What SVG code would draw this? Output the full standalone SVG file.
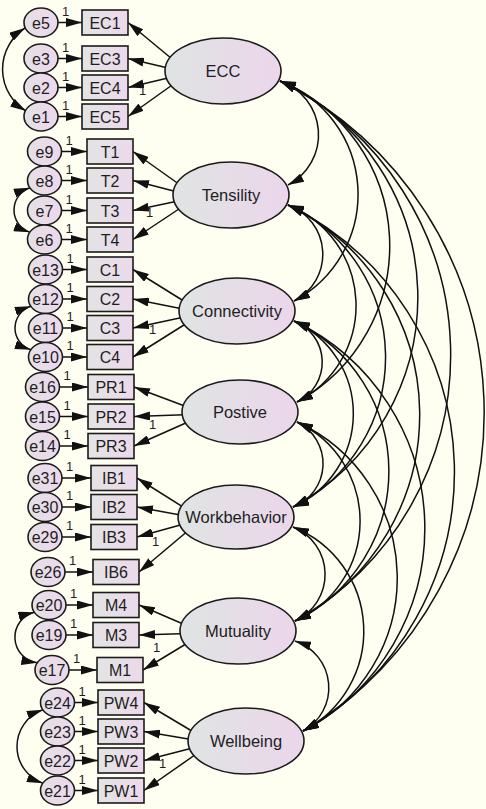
<svg xmlns="http://www.w3.org/2000/svg" width="486" height="809" viewBox="0 0 486 809">
<defs>
<linearGradient id="gl" x1="0" y1="0" x2="1" y2="0"><stop offset="0" stop-color="#DFE4E3"/><stop offset="1" stop-color="#ECD6EB"/></linearGradient>
<linearGradient id="go" x1="0" y1="0" x2="1" y2="0"><stop offset="0" stop-color="#E3E4E4"/><stop offset="1" stop-color="#ECD9EB"/></linearGradient>
<linearGradient id="ge" x1="0" y1="0" x2="1" y2="0"><stop offset="0" stop-color="#E4E0E6"/><stop offset="1" stop-color="#EDD8EC"/></linearGradient>
<marker id="ah" viewBox="0 0 16 9" refX="16" refY="4.5" markerWidth="16" markerHeight="9" markerUnits="userSpaceOnUse" orient="auto-start-reverse"><path d="M0,0 L16,4.5 L0,9 z" fill="#111"/></marker>
<style>
.lat{fill:url(#gl);stroke:#1b1b1b;stroke-width:1.6}
.obs{fill:url(#go);stroke:#1b1b1b;stroke-width:1.6}
.err{fill:url(#ge);stroke:#1b1b1b;stroke-width:1.6}
.p{fill:none;stroke:#111;stroke-width:1.5;marker-end:url(#ah)}
.cov{fill:none;stroke:#111;stroke-width:1.5;marker-start:url(#ah);marker-end:url(#ah)}
text{font-family:"Liberation Sans",Arial,sans-serif;fill:#1e1e1e}
.t{font-size:16px;text-anchor:middle}
.tl{font-size:16.5px;text-anchor:middle}
.one{font-size:13px}
</style>
</defs>
<rect x="0" y="0" width="486" height="809" fill="#FEFFF1"/>
<g id="connectors">
<!-- error to indicator -->
<path class="p" d="M41,22.5 H82"/><path class="p" d="M41,58.5 H82"/><path class="p" d="M41,87.5 H82"/><path class="p" d="M41,116.5 H82"/>
<path class="p" d="M44.5,151.5 H87"/><path class="p" d="M44.5,180.5 H87"/><path class="p" d="M44.5,210.5 H87"/><path class="p" d="M44.5,239.5 H87"/>
<path class="p" d="M45.5,269.5 H87"/><path class="p" d="M45.5,299 H87"/><path class="p" d="M45.5,328 H87"/><path class="p" d="M45.5,357 H87"/>
<path class="p" d="M42.5,387 H88"/><path class="p" d="M42.5,416.5 H88"/><path class="p" d="M42.5,446 H88"/>
<path class="p" d="M45,478 H91"/><path class="p" d="M45,507 H91"/><path class="p" d="M45,537 H91"/><path class="p" d="M48,572 H93"/>
<path class="p" d="M49,605 H93"/><path class="p" d="M49,635 H93"/><path class="p" d="M52,670 H97"/>
<path class="p" d="M57.5,702.5 H98"/><path class="p" d="M57.5,731.5 H98"/><path class="p" d="M57.5,760.5 H98"/><path class="p" d="M57.5,790.5 H98"/>
<!-- latent to indicator -->
<path class="p" d="M189,73 L128,22.5"/><path class="p" d="M189,73 L128,58.5"/><path class="p" d="M189,73 L128,87.5"/><path class="p" d="M189,73 L128,116.5"/>
<path class="p" d="M197,197 L133,151.5"/><path class="p" d="M197,197 L133,180.5"/><path class="p" d="M197,197 L133,210.5"/><path class="p" d="M197,197 L133,239.5"/>
<path class="p" d="M203,313 L133,269.5"/><path class="p" d="M203,313 L133,299"/><path class="p" d="M203,313 L133,328"/><path class="p" d="M203,313 L133,357"/>
<path class="p" d="M206,414 L134,387"/><path class="p" d="M206,414 L134,416.5"/><path class="p" d="M206,414 L134,446"/>
<path class="p" d="M202,519 L137,478"/><path class="p" d="M202,519 L137,507"/><path class="p" d="M202,519 L137,537"/><path class="p" d="M202,519 L139,572"/>
<path class="p" d="M204,633 L139,605"/><path class="p" d="M204,633 L139,635"/><path class="p" d="M204,633 L143,670"/>
<path class="p" d="M212,743 L144,702.5"/><path class="p" d="M212,743 L144,731.5"/><path class="p" d="M212,743 L144,760.5"/><path class="p" d="M212,743 L144,790.5"/>
<!-- error covariances -->
<path class="cov" d="M25,28 A49,49 0 0 0 26,111"/>
<path class="cov" d="M29.8,187.8 A23.5,23.5 0 0 0 29.8,232.2"/>
<path class="cov" d="M30.8,306.3 A22.8,22.8 0 0 0 30.8,349.7"/>
<path class="cov" d="M34.3,612.3 A25.7,25.7 0 0 0 37.3,662.7"/>
<path class="cov" d="M42.8,709.8 A39,39 0 0 0 42.8,783.2"/>
<!-- latent covariances -->
<path class="cov" d="M280,81 A56.7,56.7 0 0 1 288,185"/>
<path class="cov" d="M280,81 A121.1,121.1 0 0 1 294,301"/>
<path class="cov" d="M280,81 A178.3,178.3 0 0 1 297,402"/>
<path class="cov" d="M280,81 A238.6,238.6 0 0 1 293,507"/>
<path class="cov" d="M280,81 A305.2,305.2 0 0 1 295,621"/>
<path class="cov" d="M280,81 A370.9,370.9 0 0 1 303,731"/>
<path class="cov" d="M288,205 A52.3,52.3 0 0 1 294,301"/>
<path class="cov" d="M288,205 A108.3,108.3 0 0 1 297,402"/>
<path class="cov" d="M288,205 A167.5,167.5 0 0 1 293,507"/>
<path class="cov" d="M288,205 A232.9,232.9 0 0 1 295,621"/>
<path class="cov" d="M288,205 A297.3,297.3 0 0 1 303,731"/>
<path class="cov" d="M294,321 A44.1,44.1 0 0 1 297,402"/>
<path class="cov" d="M294,321 A102.2,102.2 0 0 1 293,507"/>
<path class="cov" d="M294,321 A166.4,166.4 0 0 1 295,621"/>
<path class="cov" d="M294,321 A229.6,229.6 0 0 1 303,731"/>
<path class="cov" d="M297,422 A46.3,46.3 0 0 1 293,507"/>
<path class="cov" d="M297,422 A109.3,109.3 0 0 1 295,621"/>
<path class="cov" d="M297,422 A171.4,171.4 0 0 1 303,731"/>
<path class="cov" d="M293,527 A51.1,51.1 0 0 1 295,621"/>
<path class="cov" d="M293,527 A112.2,112.2 0 0 1 303,731"/>
<path class="cov" d="M295,641 A49.2,49.2 0 0 1 303,731"/>
<!-- path labels -->
<text class="one" x="62" y="15.5">1</text><text class="one" x="62" y="51.5">1</text><text class="one" x="62" y="80.5">1</text><text class="one" x="62" y="109.5">1</text>
<text class="one" x="65.5" y="144.5">1</text><text class="one" x="65.5" y="173.5">1</text><text class="one" x="65.5" y="203.5">1</text><text class="one" x="65.5" y="232.5">1</text>
<text class="one" x="66.5" y="262.5">1</text><text class="one" x="66.5" y="292">1</text><text class="one" x="66.5" y="321">1</text><text class="one" x="66.5" y="350">1</text>
<text class="one" x="63.5" y="380">1</text><text class="one" x="63.5" y="409.5">1</text><text class="one" x="63.5" y="439">1</text>
<text class="one" x="66" y="471">1</text><text class="one" x="66" y="500">1</text><text class="one" x="66" y="530">1</text><text class="one" x="69" y="565">1</text>
<text class="one" x="70" y="598">1</text><text class="one" x="70" y="628">1</text><text class="one" x="73" y="663">1</text>
<text class="one" x="78.5" y="695.5">1</text><text class="one" x="78.5" y="724.5">1</text><text class="one" x="78.5" y="753.5">1</text><text class="one" x="78.5" y="783.5">1</text>
<text class="one" x="139" y="95">1</text><text class="one" x="146" y="217">1</text><text class="one" x="149" y="334">1</text><text class="one" x="149" y="429">1</text>
<text class="one" x="152" y="546">1</text><text class="one" x="153" y="652">1</text><text class="one" x="159" y="768">1</text>
</g>
<!-- latent nodes -->
<g id="ECC"><ellipse class="lat" cx="223" cy="71" rx="58" ry="33"/><text class="tl" x="223" y="77">ECC</text></g>
<g id="Tensility"><ellipse class="lat" cx="231" cy="195" rx="58" ry="33"/><text class="tl" x="231" y="201">Tensility</text></g>
<g id="Connectivity"><ellipse class="lat" cx="237" cy="311" rx="58" ry="33"/><text class="tl" x="237" y="317">Connectivity</text></g>
<g id="Postive"><ellipse class="lat" cx="240" cy="412" rx="58" ry="32"/><text class="tl" x="240" y="418">Postive</text></g>
<g id="Workbehavior"><ellipse class="lat" cx="236" cy="517" rx="58" ry="32"/><text class="tl" x="236" y="523">Workbehavior</text></g>
<g id="Mutuality"><ellipse class="lat" cx="238" cy="631" rx="58" ry="33"/><text class="tl" x="238" y="637">Mutuality</text></g>
<g id="Wellbeing"><ellipse class="lat" cx="246" cy="741" rx="58" ry="33"/><text class="tl" x="246" y="747">Wellbeing</text></g>
<!-- observed nodes -->
<g id="EC1"><rect class="obs" x="82" y="10" width="46" height="25"/><text class="t" x="105" y="28.5">EC1</text></g>
<g id="EC3"><rect class="obs" x="82" y="46" width="46" height="25"/><text class="t" x="105" y="64.5">EC3</text></g>
<g id="EC4"><rect class="obs" x="82" y="75" width="46" height="25"/><text class="t" x="105" y="93.5">EC4</text></g>
<g id="EC5"><rect class="obs" x="82" y="104" width="46" height="25"/><text class="t" x="105" y="122.5">EC5</text></g>
<g id="T1"><rect class="obs" x="87" y="139" width="46" height="25"/><text class="t" x="110" y="157.5">T1</text></g>
<g id="T2"><rect class="obs" x="87" y="168" width="46" height="25"/><text class="t" x="110" y="186.5">T2</text></g>
<g id="T3"><rect class="obs" x="87" y="198" width="46" height="25"/><text class="t" x="110" y="216.5">T3</text></g>
<g id="T4"><rect class="obs" x="87" y="227" width="46" height="25"/><text class="t" x="110" y="245.5">T4</text></g>
<g id="C1"><rect class="obs" x="87" y="257" width="46" height="25"/><text class="t" x="110" y="275.5">C1</text></g>
<g id="C2"><rect class="obs" x="87" y="286.5" width="46" height="25"/><text class="t" x="110" y="305">C2</text></g>
<g id="C3"><rect class="obs" x="87" y="315.5" width="46" height="25"/><text class="t" x="110" y="334">C3</text></g>
<g id="C4"><rect class="obs" x="87" y="344.5" width="46" height="25"/><text class="t" x="110" y="363">C4</text></g>
<g id="PR1"><rect class="obs" x="88" y="374.5" width="46" height="25"/><text class="t" x="111" y="393">PR1</text></g>
<g id="PR2"><rect class="obs" x="88" y="404" width="46" height="25"/><text class="t" x="111" y="422.5">PR2</text></g>
<g id="PR3"><rect class="obs" x="88" y="433.5" width="46" height="25"/><text class="t" x="111" y="452">PR3</text></g>
<g id="IB1"><rect class="obs" x="91" y="465.5" width="46" height="25"/><text class="t" x="114" y="484">IB1</text></g>
<g id="IB2"><rect class="obs" x="91" y="494.5" width="46" height="25"/><text class="t" x="114" y="513">IB2</text></g>
<g id="IB3"><rect class="obs" x="91" y="524.5" width="46" height="25"/><text class="t" x="114" y="543">IB3</text></g>
<g id="IB6"><rect class="obs" x="93" y="559.5" width="46" height="25"/><text class="t" x="116" y="578">IB6</text></g>
<g id="M4"><rect class="obs" x="93" y="592.5" width="46" height="25"/><text class="t" x="116" y="611">M4</text></g>
<g id="M3"><rect class="obs" x="93" y="622.5" width="46" height="25"/><text class="t" x="116" y="641">M3</text></g>
<g id="M1"><rect class="obs" x="97" y="657.5" width="46" height="25"/><text class="t" x="120" y="676">M1</text></g>
<g id="PW4"><rect class="obs" x="98" y="690" width="46" height="25"/><text class="t" x="121" y="708.5">PW4</text></g>
<g id="PW3"><rect class="obs" x="98" y="719" width="46" height="25"/><text class="t" x="121" y="737.5">PW3</text></g>
<g id="PW2"><rect class="obs" x="98" y="748" width="46" height="25"/><text class="t" x="121" y="766.5">PW2</text></g>
<g id="PW1"><rect class="obs" x="98" y="778" width="46" height="25"/><text class="t" x="121" y="796.5">PW1</text></g>
<!-- error nodes -->
<g id="e5"><ellipse class="err" cx="41" cy="22.5" rx="17" ry="14.5"/><text class="t" x="41" y="28.5">e5</text></g>
<g id="e3"><ellipse class="err" cx="41" cy="58.5" rx="17" ry="14.5"/><text class="t" x="41" y="64.5">e3</text></g>
<g id="e2"><ellipse class="err" cx="41" cy="87.5" rx="17" ry="14.5"/><text class="t" x="41" y="93.5">e2</text></g>
<g id="e1"><ellipse class="err" cx="41" cy="116.5" rx="17" ry="14.5"/><text class="t" x="41" y="122.5">e1</text></g>
<g id="e9"><ellipse class="err" cx="44.5" cy="151.5" rx="17" ry="14.5"/><text class="t" x="44.5" y="157.5">e9</text></g>
<g id="e8"><ellipse class="err" cx="44.5" cy="180.5" rx="17" ry="14.5"/><text class="t" x="44.5" y="186.5">e8</text></g>
<g id="e7"><ellipse class="err" cx="44.5" cy="210.5" rx="17" ry="14.5"/><text class="t" x="44.5" y="216.5">e7</text></g>
<g id="e6"><ellipse class="err" cx="44.5" cy="239.5" rx="17" ry="14.5"/><text class="t" x="44.5" y="245.5">e6</text></g>
<g id="e13"><ellipse class="err" cx="45.5" cy="269.5" rx="17" ry="14.5"/><text class="t" x="45.5" y="275.5">e13</text></g>
<g id="e12"><ellipse class="err" cx="45.5" cy="299" rx="17" ry="14.5"/><text class="t" x="45.5" y="305">e12</text></g>
<g id="e11"><ellipse class="err" cx="45.5" cy="328" rx="17" ry="14.5"/><text class="t" x="45.5" y="334">e11</text></g>
<g id="e10"><ellipse class="err" cx="45.5" cy="357" rx="17" ry="14.5"/><text class="t" x="45.5" y="363">e10</text></g>
<g id="e16"><ellipse class="err" cx="42.5" cy="387" rx="17" ry="14.5"/><text class="t" x="42.5" y="393">e16</text></g>
<g id="e15"><ellipse class="err" cx="42.5" cy="416.5" rx="17" ry="14.5"/><text class="t" x="42.5" y="422.5">e15</text></g>
<g id="e14"><ellipse class="err" cx="42.5" cy="446" rx="17" ry="14.5"/><text class="t" x="42.5" y="452">e14</text></g>
<g id="e31"><ellipse class="err" cx="45" cy="478" rx="17" ry="14.5"/><text class="t" x="45" y="484">e31</text></g>
<g id="e30"><ellipse class="err" cx="45" cy="507" rx="17" ry="14.5"/><text class="t" x="45" y="513">e30</text></g>
<g id="e29"><ellipse class="err" cx="45" cy="537" rx="17" ry="14.5"/><text class="t" x="45" y="543">e29</text></g>
<g id="e26"><ellipse class="err" cx="48" cy="572" rx="17" ry="14.5"/><text class="t" x="48" y="578">e26</text></g>
<g id="e20"><ellipse class="err" cx="49" cy="605" rx="17" ry="14.5"/><text class="t" x="49" y="611">e20</text></g>
<g id="e19"><ellipse class="err" cx="49" cy="635" rx="17" ry="14.5"/><text class="t" x="49" y="641">e19</text></g>
<g id="e17"><ellipse class="err" cx="52" cy="670" rx="17" ry="14.5"/><text class="t" x="52" y="676">e17</text></g>
<g id="e24"><ellipse class="err" cx="57.5" cy="702.5" rx="17" ry="14.5"/><text class="t" x="57.5" y="708.5">e24</text></g>
<g id="e23"><ellipse class="err" cx="57.5" cy="731.5" rx="17" ry="14.5"/><text class="t" x="57.5" y="737.5">e23</text></g>
<g id="e22"><ellipse class="err" cx="57.5" cy="760.5" rx="17" ry="14.5"/><text class="t" x="57.5" y="766.5">e22</text></g>
<g id="e21"><ellipse class="err" cx="57.5" cy="790.5" rx="17" ry="14.5"/><text class="t" x="57.5" y="796.5">e21</text></g>
</svg>
